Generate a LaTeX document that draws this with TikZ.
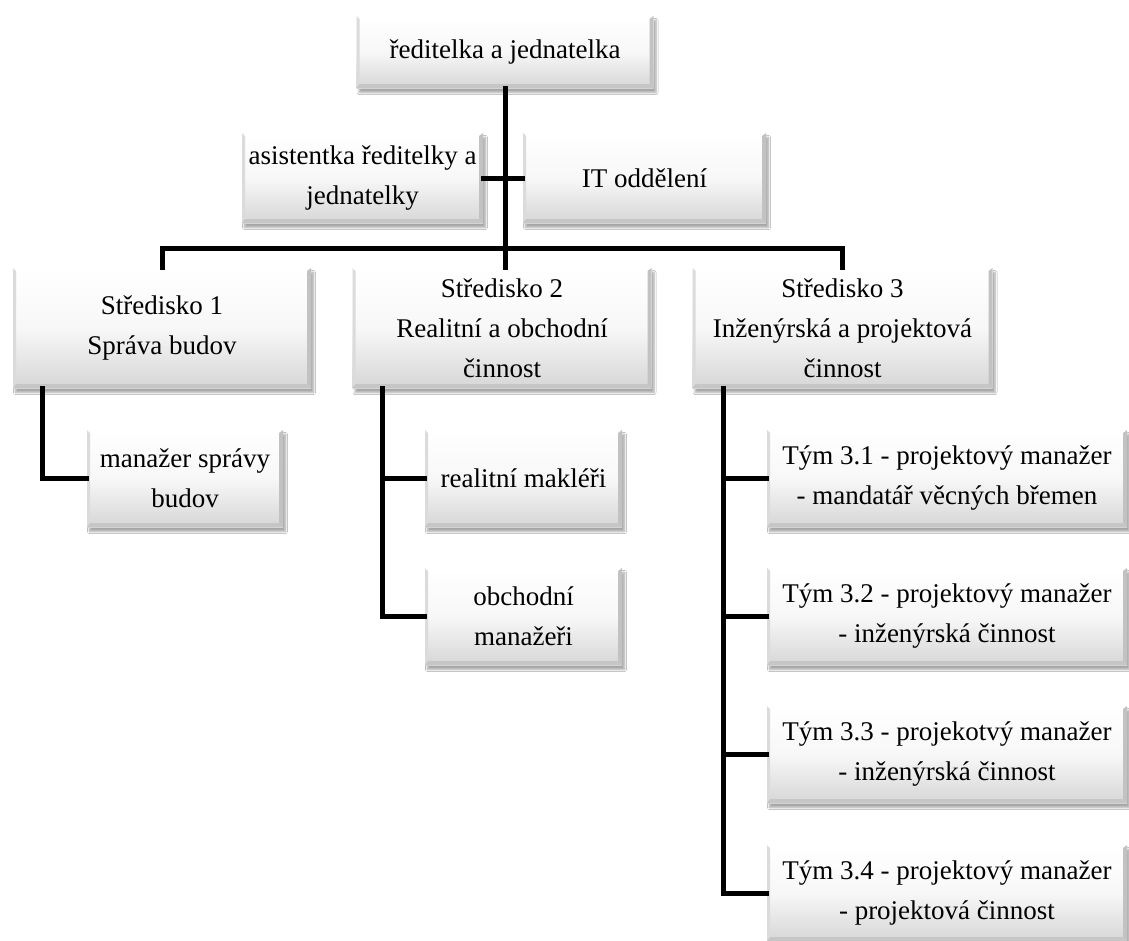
\documentclass[tikz,border=0pt]{standalone}
\usepackage{fontspec}
\setmainfont{Liberation Serif}
\usetikzlibrary{calc,shadows,shadows.blur}

\tikzset{
  unit box/.style={
    rectangle, inner sep=0pt, align=center,
    font=\fontsize{27pt}{40pt}\selectfont,
    top color=white, bottom color=gray!32, middle color=gray!6,
    blur shadow={shadow xshift=2.5pt, shadow yshift=-4.5pt, shadow blur radius=2pt, shadow blur steps=6, shadow opacity=35},
    path picture={
      \coordinate (bnw) at (path picture bounding box.north west);
      \coordinate (bne) at (path picture bounding box.north east);
      \coordinate (bsw) at (path picture bounding box.south west);
      \coordinate (bse) at (path picture bounding box.south east);
      % bevel: light top, soft grey left, darker right and bottom
      \fill[white] (bnw) -- (bne) -- ($(bne)+(-4pt,-3pt)$) -- ($(bnw)+(4pt,-3pt)$) -- cycle;
      \fill[gray!28] (bnw) -- (bsw) -- ($(bsw)+(3pt,4pt)$) -- ($(bnw)+(3pt,-3pt)$) -- cycle;
      \fill[gray!48] (bne) -- (bse) -- ($(bse)+(-4pt,4pt)$) -- ($(bne)+(-4pt,-3pt)$) -- cycle;
      \fill[gray!45] (bsw) -- (bse) -- ($(bse)+(-4pt,4pt)$) -- ($(bsw)+(3pt,4pt)$) -- cycle;
    }
  },
  conn/.style={line width=5pt, black, line join=miter, line cap=rect}
}

\begin{document}
\begin{tikzpicture}[x=1pt, y=-1pt]
  \useasboundingbox[fill=white] (0,0) rectangle (1129,940);

  \coordinate (bar) at (505,248);

  % top level
  \node[unit box, minimum width=297pt, minimum height=72pt] (top) at (505,52) {ředitelka a jednatelka};
  \node[unit box, minimum width=241pt, minimum height=90pt] (asst) at (362.5,178) {asistentka ředitelky a\\jednatelky};
  \node[unit box, minimum width=243pt, minimum height=90pt] (it) at (644.5,178) {IT oddělení};

  % departments
  \node[unit box, minimum width=298pt, minimum height=120pt] (s1) at (162,328) {Středisko 1\\Správa budov};
  \node[unit box, minimum width=299pt, minimum height=120pt] (s2) at (502,328) {Středisko 2\\Realitní a obchodní\\činnost};
  \node[unit box, minimum width=300pt, minimum height=120pt] (s3) at (842.5,328) {Středisko 3\\Inženýrská a projektová\\činnost};

  % department 1
  \node[unit box, minimum width=196pt, minimum height=97pt] (man) at (185,478.5) {manažer správy\\budov};

  % department 2
  \node[unit box, minimum width=197pt, minimum height=97pt] (real) at (523.5,478.5) {realitní makléři};
  \node[unit box, minimum width=197pt, minimum height=97pt] (obch) at (523.5,616.5) {obchodní\\manažeři};

  % department 3
  \node[unit box, minimum width=360pt, minimum height=97pt] (t1) at (947,478.5) {Tým 3.1 - projektový manažer\\- mandatář věcných břemen};
  \node[unit box, minimum width=360pt, minimum height=97pt] (t2) at (947,616.5) {Tým 3.2 - projektový manažer\\- inženýrská činnost};
  \node[unit box, minimum width=360pt, minimum height=97pt] (t3) at (947,754.5) {Tým 3.3 - projekotvý manažer\\- inženýrská činnost};
  \node[unit box, minimum width=360pt, minimum height=96pt] (t4) at (947,893) {Tým 3.4 - projektový manažer\\- projektová činnost};

  % connector lines
  \draw[conn] (top.south) -- (bar) -- (bar |- s2.north);
  \draw[conn] (asst.east) -- (it.west);
  \draw[conn] (s1.north) -- (s1.north |- bar) -- (s3.north |- bar) -- (s3.north);

  \coordinate (c1) at ($(s1.south west)+(30,0)$);
  \coordinate (c2) at ($(s2.south west)+(30,0)$);
  \coordinate (c3) at ($(s3.south west)+(31,0)$);

  \draw[conn] (c1) |- (man.west);
  \draw[conn] (c2) |- (obch.west);
  \draw[conn] (real.west) -- (real.west -| c2);
  \draw[conn] (c3) |- (t4.west);
  \draw[conn] (t1.west) -- (t1.west -| c3);
  \draw[conn] (t2.west) -- (t2.west -| c3);
  \draw[conn] (t3.west) -- (t3.west -| c3);
\end{tikzpicture}
\end{document}
